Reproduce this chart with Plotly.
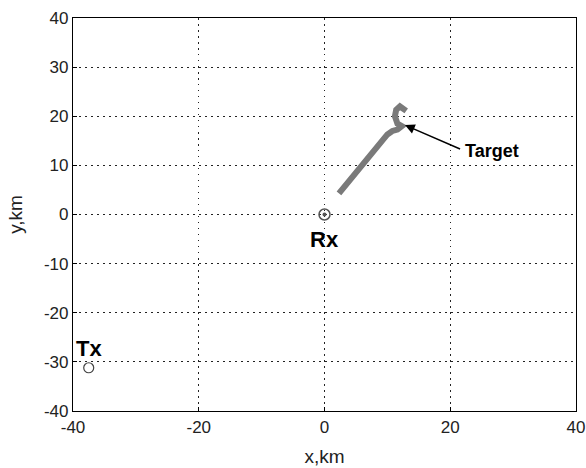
import plotly.graph_objects as go

track_x = [2.3, 3.5, 5.0, 6.5, 8.0, 9.0, 10.0, 10.8, 11.6, 12.3, 11.6, 11.2, 11.4, 12.0, 12.6, 13.0]
track_y = [4.3, 6.2, 8.5, 11.0, 13.5, 15.0, 16.3, 17.0, 17.3, 18.0, 18.5, 20.0, 21.3, 22.0, 21.6, 21.1]
rx_pos = [0.0, 0.0]
tx_pos = [-37.5, -31.2]
x_ticks = [-40, -20, 0, 20, 40]
y_ticks = [-40, -30, -20, -10, 0, 10, 20, 30, 40]

FONT = "Liberation Sans, Arial"

fig = go.Figure()
fig.add_trace(go.Scatter(x=track_x, y=track_y, mode="lines",
                         line=dict(color="#7a7a7a", width=6), showlegend=False))
fig.add_trace(go.Scatter(x=[rx_pos[0]], y=[rx_pos[1]], mode="markers",
                         marker=dict(symbol="circle-open", size=11, color="#555555", line=dict(width=1.5)),
                         showlegend=False))
fig.add_trace(go.Scatter(x=[rx_pos[0]], y=[rx_pos[1]], mode="markers",
                         marker=dict(symbol="circle", size=4, color="#555555"), showlegend=False))
fig.add_trace(go.Scatter(x=[tx_pos[0]], y=[tx_pos[1]], mode="markers",
                         marker=dict(symbol="circle-open", size=10, color="#444444", line=dict(width=1.2)),
                         showlegend=False))

fig.add_annotation(x=rx_pos[0], y=-5.0, text="<b>Rx</b>", showarrow=False,
                   font=dict(family=FONT, size=22, color="black"))
fig.add_annotation(x=tx_pos[0], y=-27.2, text="<b>Tx</b>", showarrow=False,
                   font=dict(family=FONT, size=22, color="black"))
fig.add_annotation(x=12.8, y=18.2, ax=21.8, ay=13.2, axref="x", ayref="y", text="",
                   showarrow=True, arrowhead=2, arrowsize=1.3, arrowwidth=1.5, arrowcolor="black")
fig.add_annotation(x=22.0, y=13.0, text="<b>Target</b>", showarrow=False, xanchor="left",
                   font=dict(family=FONT, size=18, color="black"))

axis_common = dict(showgrid=True, gridcolor="#222222", griddash="1.5px,4.5px", gridwidth=1.2,
                   showline=True, linecolor="black", linewidth=1.2, mirror=True,
                   ticks="inside", ticklen=4, tickcolor="black", zeroline=False, automargin=False,
                   ticklabeloverflow="allow",
                   tickfont=dict(family=FONT, size=17, color="#222222"))
fig.update_xaxes(range=[-40, 40], tickvals=x_ticks, ticktext=[str(v) for v in x_ticks],
                 title=dict(text="x,km", font=dict(family=FONT, size=19, color="#222222"), standoff=14),
                 **axis_common)
fig.update_yaxes(range=[-40, 40], tickvals=y_ticks, ticktext=[str(v) for v in y_ticks],
                 title=dict(text="y,km", font=dict(family=FONT, size=19, color="#222222"), standoff=16),
                 **axis_common)
fig.update_layout(width=586, height=468, margin=dict(l=73, r=10, t=18, b=57, autoexpand=False),
                  plot_bgcolor="white", paper_bgcolor="white")
fig.write_html("out.html", config={"displayModeBar": False},
               post_script="document.body.style.margin='0';document.body.style.padding='0';")
